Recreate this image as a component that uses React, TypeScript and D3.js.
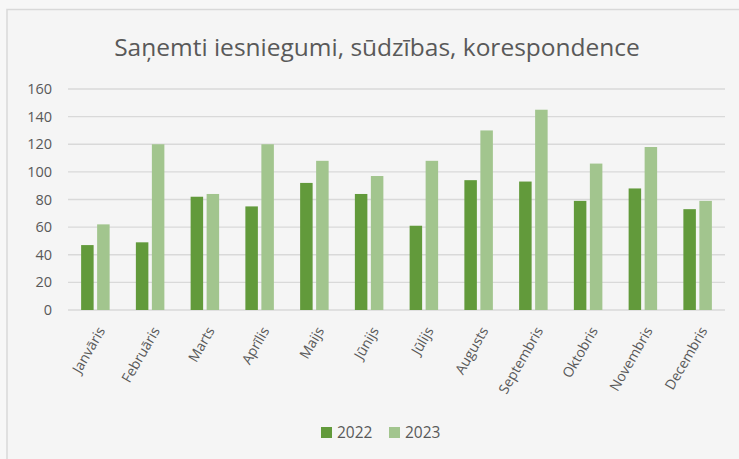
import React from "react";
import * as d3 from "d3";

const months = ["Janvāris","Februāris","Marts","Aprīlis","Maijs","Jūnijs","Jūlijs","Augusts","Septembris","Oktobris","Novembris","Decembris"];
const series2022 = [47, 49, 82, 75, 92, 84, 61, 94, 93, 79, 88, 73];
const series2023 = [62, 120, 84, 120, 108, 97, 108, 130, 145, 106, 118, 79];
const seriesNames = ["2022", "2023"];
const yTicks = [0, 20, 40, 60, 80, 100, 120, 140, 160];
const title = "Saņemti iesniegumi, sūdzības, korespondence";

const W = 739, H = 459;
const colors = ["#629a3b", "#a2c58e"];
const FONT = "'Open Sans', 'Noto Sans', sans-serif";
const LABEL_ANGLE = -60;

export default function App() {
  const left = 68, right = 725, top = 89, bottom = 310;
  const x = d3.scaleBand<string>().domain(months).range([left, right]).paddingInner(0).paddingOuter(0);
  const y = d3.scaleLinear().domain([0, 160]).range([bottom, top]);
  const bw = x.bandwidth();
  const barW = 12.5, gap = 3.5;
  const data = [series2022, series2023];
  return (
    <svg width={W} height={H} style={{ position: "absolute", left: 0, top: 0, display: "block" }}>
      <rect x={0} y={0} width={W} height={H} fill="#f7f7f7" />
      <rect x={7} y={9.5} width={W} height={H} fill="#f5f5f5" stroke="#d9d9d9" strokeWidth={1.5} />
      <text x={377} y={56} textAnchor="middle" fontFamily={FONT} fontSize={24.5} fill="#595959">{title}</text>
      {yTicks.map(t => (
        <g key={t}>
          <line x1={left} x2={right} y1={y(t)} y2={y(t)} stroke="#d9d9d9" strokeWidth={1.3} />
          <text x={52} y={y(t)} dy="0.35em" textAnchor="end" fontFamily={FONT} fontSize={14.5} fill="#595959">{t}</text>
        </g>
      ))}
      {months.map((m, i) => {
        const cx = (x(m) as number) + bw / 2;
        const start = cx - (2 * barW + gap) / 2;
        const ax = cx + 6, ay = bottom + 18;
        return (
          <g key={m}>
            {data.map((s, k) => (
              <rect key={k} x={start + k * (barW + gap)} y={y(s[i])} width={barW} height={bottom - y(s[i])} fill={colors[k]} />
            ))}
            <text x={ax} y={ay} textAnchor="end" dy="0.35em"
              transform={`rotate(${LABEL_ANGLE} ${ax} ${ay})`}
              fontFamily={FONT} fontSize={14} fill="#595959">{m}</text>
          </g>
        );
      })}
      {seriesNames.map((n, k) => (
        <g key={n} transform={`translate(${321 + k * 68},427)`}>
          <rect x={0} y={0} width={11} height={11} fill={colors[k]} />
          <text x={16} y={5.5} dy="0.36em" fontFamily={FONT} fontSize={15.5} fill="#595959">{n}</text>
        </g>
      ))}
    </svg>
  );
}
